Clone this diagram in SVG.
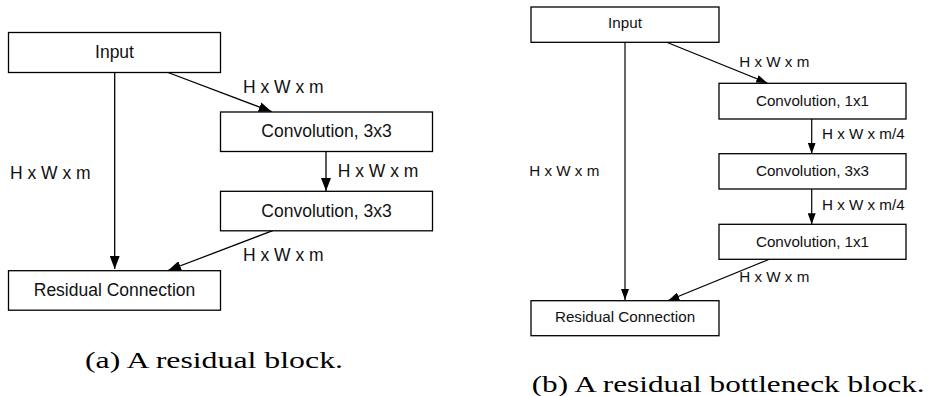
<svg xmlns="http://www.w3.org/2000/svg" width="933" height="396" viewBox="0 0 933 396">
<defs>
<marker id="ahA" markerUnits="userSpaceOnUse" markerWidth="13" markerHeight="10" refX="13" refY="5" orient="auto"><path d="M0,0 L13,5 L0,10 z" fill="#000"/></marker>
<marker id="ahB" markerUnits="userSpaceOnUse" markerWidth="11" markerHeight="8" refX="11" refY="4" orient="auto"><path d="M0,0 L11,4 L0,8 z" fill="#000"/></marker>
<style>
.box{fill:#fff;stroke:#000;stroke-width:1.3}
.ta{font-family:"Liberation Sans",Arial,sans-serif;font-size:17.5px;fill:#111}
.tb{font-family:"Liberation Sans",Arial,sans-serif;font-size:15.2px;fill:#111}
.c{text-anchor:middle}
.ea{stroke:#000;stroke-width:1.3;fill:none;marker-end:url(#ahA)}
.eb{stroke:#000;stroke-width:1.2;fill:none;marker-end:url(#ahB)}
.cap{font-family:"Liberation Serif","Times New Roman",serif;font-size:23.5px;fill:#000}
</style>
</defs>
<rect width="933" height="396" fill="#fff"/>
<!-- Diagram (a) -->
<g id="connectors-a">
<line class="ea" x1="114.7" y1="72" x2="114.7" y2="269"/>
<line class="ea" x1="166.7" y1="72" x2="271.7" y2="111.7"/>
<line class="ea" x1="326" y1="151" x2="326" y2="191"/>
<line class="ea" x1="272.7" y1="230.7" x2="168" y2="270.5"/>
<text class="ta" x="243" y="92.7">H x W x m</text>
<text class="ta" x="10" y="179.3">H x W x m</text>
<text class="ta" x="337.7" y="176.7">H x W x m</text>
<text class="ta" x="243" y="260.7">H x W x m</text>
</g>
<g id="a-input"><rect class="box" x="8.5" y="32.5" width="212" height="40"/><text class="ta c" x="114.5" y="58.3">Input</text></g>
<g id="a-conv1"><rect class="box" x="220.5" y="112" width="212" height="39.5"/><text class="ta c" x="326.5" y="137.3">Convolution, 3x3</text></g>
<g id="a-conv2"><rect class="box" x="220.5" y="191.3" width="212" height="39.5"/><text class="ta c" x="326.5" y="216.7">Convolution, 3x3</text></g>
<g id="a-residual"><rect class="box" x="8.5" y="270.7" width="212" height="39.5"/><text class="ta c" x="114.5" y="296">Residual Connection</text></g>
<text class="cap" x="85" y="368.3" textLength="258" lengthAdjust="spacingAndGlyphs">(a) A residual block.</text>
<!-- Diagram (b) -->
<g id="connectors-b">
<line class="eb" x1="625" y1="42.3" x2="625" y2="300"/>
<line class="eb" x1="666.7" y1="42.3" x2="767.3" y2="83"/>
<line class="eb" x1="811.7" y1="119" x2="811.7" y2="153.7"/>
<line class="eb" x1="811.7" y1="189" x2="811.7" y2="224.3"/>
<line class="eb" x1="769.3" y1="259.3" x2="668.3" y2="300.5"/>
<text class="tb" x="739.3" y="66.7">H x W x m</text>
<text class="tb" x="822" y="139">H x W x m/4</text>
<text class="tb" x="529.3" y="175.7">H x W x m</text>
<text class="tb" x="822" y="209.7">H x W x m/4</text>
<text class="tb" x="739.3" y="282.3">H x W x m</text>
</g>
<g id="b-input"><rect class="box" x="531" y="7" width="188" height="35.3"/><text class="tb c" x="625" y="28.3">Input</text></g>
<g id="b-conv1"><rect class="box" x="719" y="83.3" width="187" height="35.7"/><text class="tb c" x="812.5" y="106">Convolution, 1x1</text></g>
<g id="b-conv3"><rect class="box" x="719" y="153.7" width="187" height="35.3"/><text class="tb c" x="812.5" y="176">Convolution, 3x3</text></g>
<g id="b-conv1b"><rect class="box" x="719" y="224.3" width="187" height="35"/><text class="tb c" x="812.5" y="246.5">Convolution, 1x1</text></g>
<g id="b-residual"><rect class="box" x="531" y="300.7" width="188" height="35"/><text class="tb c" x="625" y="322.3">Residual Connection</text></g>
<text class="cap" x="531.7" y="392.3" textLength="393" lengthAdjust="spacingAndGlyphs">(b) A residual bottleneck block.</text>
</svg>
